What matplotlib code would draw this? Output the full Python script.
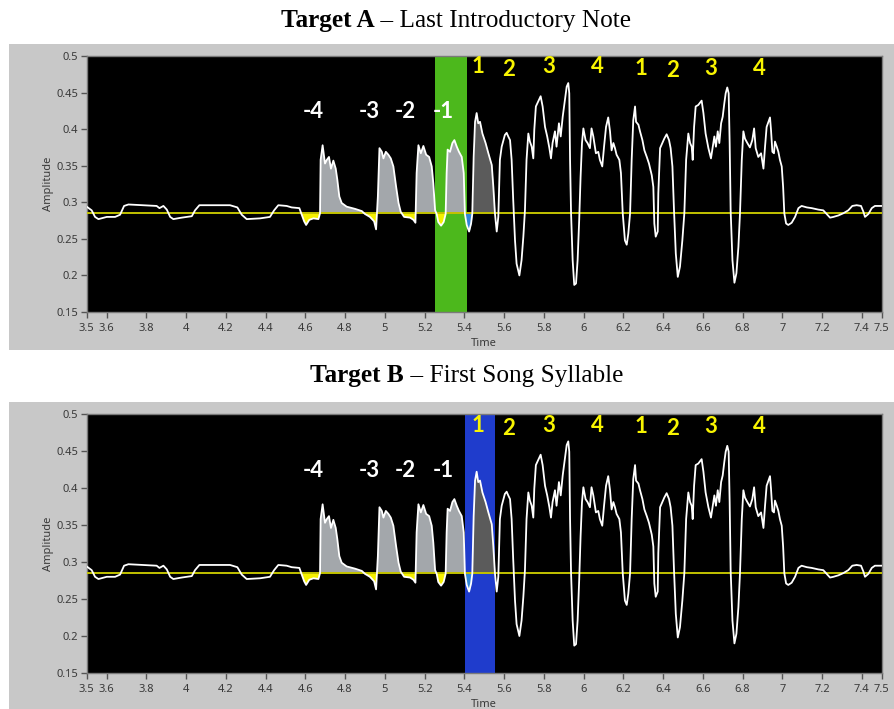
import numpy as np
import matplotlib
matplotlib.use("Agg")
import matplotlib.pyplot as plt
from matplotlib.patches import Rectangle

# ---------------- data ----------------
time = [3.500, 3.525, 3.542, 3.559, 3.601, 3.643, 3.668, 3.688, 3.710, 3.785,
        3.852, 3.866, 3.886, 3.903, 3.920, 3.936, 3.978, 4.029, 4.045, 4.067,
        4.138, 4.221, 4.258, 4.280, 4.305, 4.372, 4.422, 4.443, 4.464, 4.506,
        4.531, 4.570, 4.582, 4.594, 4.604, 4.620, 4.641, 4.666, 4.674, 4.677,
        4.687, 4.699, 4.708, 4.719, 4.729, 4.741, 4.753, 4.761, 4.771, 4.783,
        4.808, 4.850, 4.884, 4.900, 4.925, 4.946, 4.956, 4.965, 4.973, 4.985,
        4.993, 5.005, 5.018, 5.030, 5.043, 5.057, 5.069, 5.080, 5.097, 5.127,
        5.144, 5.154, 5.160, 5.169, 5.181, 5.194, 5.208, 5.223, 5.236, 5.244,
        5.253, 5.261, 5.269, 5.283, 5.296, 5.306, 5.311, 5.316, 5.328, 5.340,
        5.350, 5.362, 5.373, 5.387, 5.397, 5.403, 5.412, 5.424, 5.434, 5.440,
        5.447, 5.454, 5.462, 5.470, 5.479, 5.491, 5.507, 5.521, 5.538, 5.546,
        5.554, 5.563, 5.571, 5.579, 5.588, 5.604, 5.613, 5.621, 5.630, 5.638,
        5.646, 5.655, 5.663, 5.677, 5.688, 5.697, 5.705, 5.713, 5.722, 5.730,
        5.739, 5.747, 5.752, 5.760, 5.772, 5.784, 5.794, 5.806, 5.817, 5.828,
        5.836, 5.844, 5.856, 5.864, 5.876, 5.885, 5.895, 5.906, 5.915, 5.923,
        5.928, 5.932, 5.937, 5.945, 5.953, 5.962, 5.970, 5.978, 5.985, 5.992,
        5.999, 6.010, 6.020, 6.032, 6.040, 6.049, 6.062, 6.074, 6.082, 6.094,
        6.103, 6.113, 6.124, 6.133, 6.141, 6.150, 6.158, 6.166, 6.180, 6.188,
        6.197, 6.208, 6.217, 6.225, 6.234, 6.242, 6.250, 6.259, 6.264, 6.276,
        6.284, 6.296, 6.306, 6.318, 6.329, 6.343, 6.351, 6.356, 6.363, 6.373,
        6.376, 6.385, 6.396, 6.406, 6.418, 6.430, 6.438, 6.447, 6.455, 6.464,
        6.474, 6.485, 6.497, 6.507, 6.516, 6.527, 6.536, 6.544, 6.549, 6.556,
        6.564, 6.577, 6.594, 6.603, 6.614, 6.628, 6.641, 6.650, 6.658, 6.666,
        6.675, 6.683, 6.692, 6.700, 6.708, 6.715, 6.723, 6.730, 6.735, 6.740,
        6.749, 6.759, 6.769, 6.779, 6.787, 6.796, 6.804, 6.812, 6.824, 6.837,
        6.849, 6.858, 6.866, 6.879, 6.893, 6.905, 6.913, 6.921, 6.930, 6.938,
        6.943, 6.950, 6.958, 6.963, 6.972, 6.980, 6.988, 6.997, 7.004, 7.010,
        7.019, 7.030, 7.047, 7.064, 7.081, 7.097, 7.123, 7.148, 7.181, 7.206,
        7.223, 7.240, 7.257, 7.282, 7.307, 7.332, 7.352, 7.374, 7.396, 7.408,
        7.416, 7.433, 7.450, 7.466, 7.492, 7.500]

amplitude = [0.294, 0.289, 0.280, 0.277, 0.280, 0.280, 0.283, 0.295, 0.297, 0.296,
             0.295, 0.292, 0.295, 0.290, 0.280, 0.277, 0.279, 0.281, 0.289, 0.296,
             0.296, 0.296, 0.293, 0.283, 0.277, 0.278, 0.280, 0.289, 0.296, 0.295,
             0.293, 0.292, 0.283, 0.274, 0.269, 0.276, 0.278, 0.277, 0.285, 0.358,
             0.378, 0.353, 0.358, 0.362, 0.346, 0.357, 0.346, 0.331, 0.308, 0.299,
             0.294, 0.291, 0.288, 0.284, 0.280, 0.274, 0.263, 0.308, 0.374, 0.369,
             0.360, 0.369, 0.365, 0.360, 0.349, 0.321, 0.299, 0.287, 0.280, 0.279,
             0.276, 0.272, 0.340, 0.378, 0.367, 0.377, 0.365, 0.362, 0.349, 0.326,
             0.289, 0.284, 0.273, 0.268, 0.273, 0.284, 0.340, 0.372, 0.369, 0.381,
             0.385, 0.376, 0.369, 0.362, 0.340, 0.284, 0.269, 0.260, 0.271, 0.284,
             0.362, 0.410, 0.422, 0.408, 0.410, 0.394, 0.381, 0.367, 0.351, 0.321,
             0.285, 0.260, 0.280, 0.358, 0.376, 0.392, 0.395, 0.390, 0.385, 0.358,
             0.303, 0.248, 0.216, 0.200, 0.221, 0.253, 0.289, 0.358, 0.394, 0.383,
             0.376, 0.360, 0.399, 0.431, 0.438, 0.445, 0.431, 0.403, 0.390, 0.374,
             0.360, 0.381, 0.397, 0.376, 0.408, 0.390, 0.417, 0.440, 0.458, 0.463,
             0.449, 0.358, 0.285, 0.221, 0.187, 0.189, 0.221, 0.276, 0.335, 0.381,
             0.401, 0.385, 0.381, 0.374, 0.401, 0.390, 0.367, 0.369, 0.358, 0.349,
             0.376, 0.403, 0.416, 0.397, 0.371, 0.381, 0.374, 0.365, 0.358, 0.340,
             0.285, 0.248, 0.242, 0.257, 0.285, 0.358, 0.412, 0.431, 0.410, 0.406,
             0.397, 0.385, 0.371, 0.362, 0.353, 0.337, 0.321, 0.271, 0.253, 0.260,
             0.312, 0.374, 0.381, 0.387, 0.393, 0.385, 0.374, 0.349, 0.289, 0.230,
             0.198, 0.212, 0.248, 0.285, 0.358, 0.394, 0.381, 0.376, 0.358, 0.403,
             0.431, 0.433, 0.439, 0.422, 0.394, 0.374, 0.360, 0.376, 0.390, 0.376,
             0.397, 0.381, 0.408, 0.417, 0.435, 0.449, 0.457, 0.449, 0.381, 0.289,
             0.221, 0.190, 0.203, 0.239, 0.285, 0.358, 0.397, 0.387, 0.381, 0.375,
             0.385, 0.401, 0.374, 0.362, 0.367, 0.346, 0.376, 0.403, 0.410, 0.416,
             0.399, 0.369, 0.367, 0.383, 0.376, 0.369, 0.358, 0.349, 0.321, 0.285,
             0.271, 0.269, 0.272, 0.280, 0.292, 0.295, 0.293, 0.292, 0.290, 0.289,
             0.284, 0.279, 0.280, 0.282, 0.285, 0.289, 0.295, 0.296, 0.295, 0.287,
             0.280, 0.284, 0.292, 0.295, 0.295, 0.295]

threshold = 0.285

intro_labels = ["-4", "-3", "-2", "-1"]
intro_label_t = [4.640, 4.922, 5.101, 5.294]
intro_label_amp = [0.424, 0.424, 0.424, 0.424]

song_labels = ["1", "2", "3", "4", "1", "2", "3", "4"]
song_label_t = [5.470, 5.625, 5.826, 6.071, 6.287, 6.447, 6.640, 6.884]
song_label_amp = [0.485, 0.481, 0.485, 0.485, 0.483, 0.480, 0.483, 0.483]

# time windows of the coloured regions
intro_window = [4.60, 5.44]          # grey above threshold
intro_dip_window = [4.57, 5.40]      # yellow below threshold
last_dip_window = [5.40, 5.445]      # blue below threshold
syllable_window = [5.44, 5.56]       # dark grey above threshold

panel_titles = [("Target A", " \u2013 Last Introductory Note"),
                ("Target B", " \u2013 First Song Syllable")]
band_windows = [[5.252, 5.412], [5.405, 5.554]]
band_colors = ["#4cb81c", "#1f3ccc"]

x_ticks = [3.5, 3.6, 3.8, 4, 4.2, 4.4, 4.6, 4.8, 5, 5.2, 5.4, 5.6, 5.8, 6,
           6.2, 6.4, 6.6, 6.8, 7, 7.2, 7.4, 7.5]
x_tick_labels = ["3.5", "3.6", "3.8", "4", "4.2", "4.4", "4.6", "4.8", "5",
                 "5.2", "5.4", "5.6", "5.8", "6", "6.2", "6.4", "6.6", "6.8",
                 "7", "7.2", "7.4", "7.5"]
y_ticks = [0.15, 0.2, 0.25, 0.3, 0.35, 0.4, 0.45, 0.5]
y_tick_labels = ["0.15", "0.2", "0.25", "0.3", "0.35", "0.4", "0.45", "0.5"]

# ---------------- figure ----------------
W, H = 894, 709
fig = plt.figure(figsize=(W / 100, H / 100), dpi=100)
fig.patch.set_facecolor("white")

t = np.array(time)
a = np.array(amplitude)

FRAME = "#c8c8c8"
TXT = "#3a3a3a"

frames = [(9, 44, 350), (9, 402, 709)]
axes_px = [(86.7, 56, 881.7, 312), (86.7, 414, 881.7, 673)]
title_px = [(456, 27.5), (467, 382)]   # centre x, baseline y

def px_rect(x0, y0, x1, y1):
    return [x0 / W, 1 - y1 / H, (x1 - x0) / W, (y1 - y0) / H]

bg = fig.add_axes([0, 0, 1, 1], zorder=0)
bg.set_xlim(0, W)
bg.set_ylim(H, 0)
bg.axis("off")
for fx0, fy0, fy1 in frames:
    bg.add_patch(Rectangle((fx0, fy0), W - fx0, fy1 - fy0, facecolor=FRAME,
                           edgecolor="none"))

for i in range(2):
    ax = fig.add_axes(px_rect(*axes_px[i]), zorder=2)
    ax.set_facecolor("black")
    ax.set_xlim(3.5, 7.5)
    ax.set_ylim(0.15, 0.5)

    ax.axvspan(band_windows[i][0], band_windows[i][1], color=band_colors[i],
               zorder=1, lw=0)

    above = a >= threshold
    below = a <= threshold
    m_intro = (t >= intro_window[0]) & (t <= intro_window[1])
    m_dip = (t >= intro_dip_window[0]) & (t <= intro_dip_window[1])
    m_last = (t >= last_dip_window[0]) & (t <= last_dip_window[1])
    m_syl = (t >= syllable_window[0]) & (t <= syllable_window[1])
    ax.fill_between(t, a, threshold, where=above & m_intro, interpolate=True,
                    color="#a3a7ab", lw=0, zorder=2)
    ax.fill_between(t, a, threshold, where=below & m_dip, interpolate=True,
                    color="#f5f000", lw=0, zorder=2)
    ax.fill_between(t, a, threshold, where=below & m_last, interpolate=True,
                    color="#2f86d8", lw=0, zorder=2)
    ax.fill_between(t, a, threshold, where=above & m_syl, interpolate=True,
                    color="#5b5b5b", lw=0, zorder=2)

    ax.axhline(threshold, color="#c2c200", lw=1.4, zorder=3)
    ax.plot(t, a, color="white", lw=1.3, zorder=4)

    for lab, xx, yy in zip(intro_labels, intro_label_t, intro_label_amp):
        ax.text(xx, yy, lab, color="white", fontsize=16, fontweight="bold",
                family="Lato", ha="center", va="center", zorder=5)
    for lab, xx, yy in zip(song_labels, song_label_t, song_label_amp):
        ax.text(xx, yy, lab, color="#f8f400", fontsize=16, fontweight="bold",
                family="Lato", ha="center", va="center", zorder=5)

    ax.set_xticks(x_ticks)
    ax.set_xticklabels(x_tick_labels)
    ax.set_yticks(y_ticks)
    ax.set_yticklabels(y_tick_labels)
    ax.tick_params(axis="both", colors="#555555", labelcolor=TXT, labelsize=8,
                   length=4, width=1, direction="out")
    ax.tick_params(axis="x", pad=4)
    ax.tick_params(axis="y", pad=2)
    for lbl in ax.get_xticklabels() + ax.get_yticklabels():
        lbl.set_family("Noto Sans")
    for s in ax.spines.values():
        s.set_color("#7a7a7a")
        s.set_linewidth(1)
    ax.set_xlabel("Time", fontsize=8, color=TXT, family="Noto Sans", labelpad=2.5)
    ax.set_ylabel("Amplitude", fontsize=8, color=TXT, family="Noto Sans", labelpad=2)

# mixed-weight titles
renderer = fig.canvas.get_renderer()
for i in range(2):
    cx, cy = title_px[i]
    bold, reg = panel_titles[i]
    t1 = fig.text(0, 1 - cy / H, bold, fontsize=18.2, fontweight="bold",
                  family="Liberation Serif", va="baseline", ha="left", color="black")
    t2 = fig.text(0, 1 - cy / H, reg, fontsize=18.2, family="Liberation Serif",
                  va="baseline", ha="left", color="black")
    w1 = t1.get_window_extent(renderer).width
    w2 = t2.get_window_extent(renderer).width
    start = cx - (w1 + w2) / 2
    t1.set_x(start / W)
    t2.set_x((start + w1) / W)

fig.savefig("out.png", dpi=100, facecolor="white")
